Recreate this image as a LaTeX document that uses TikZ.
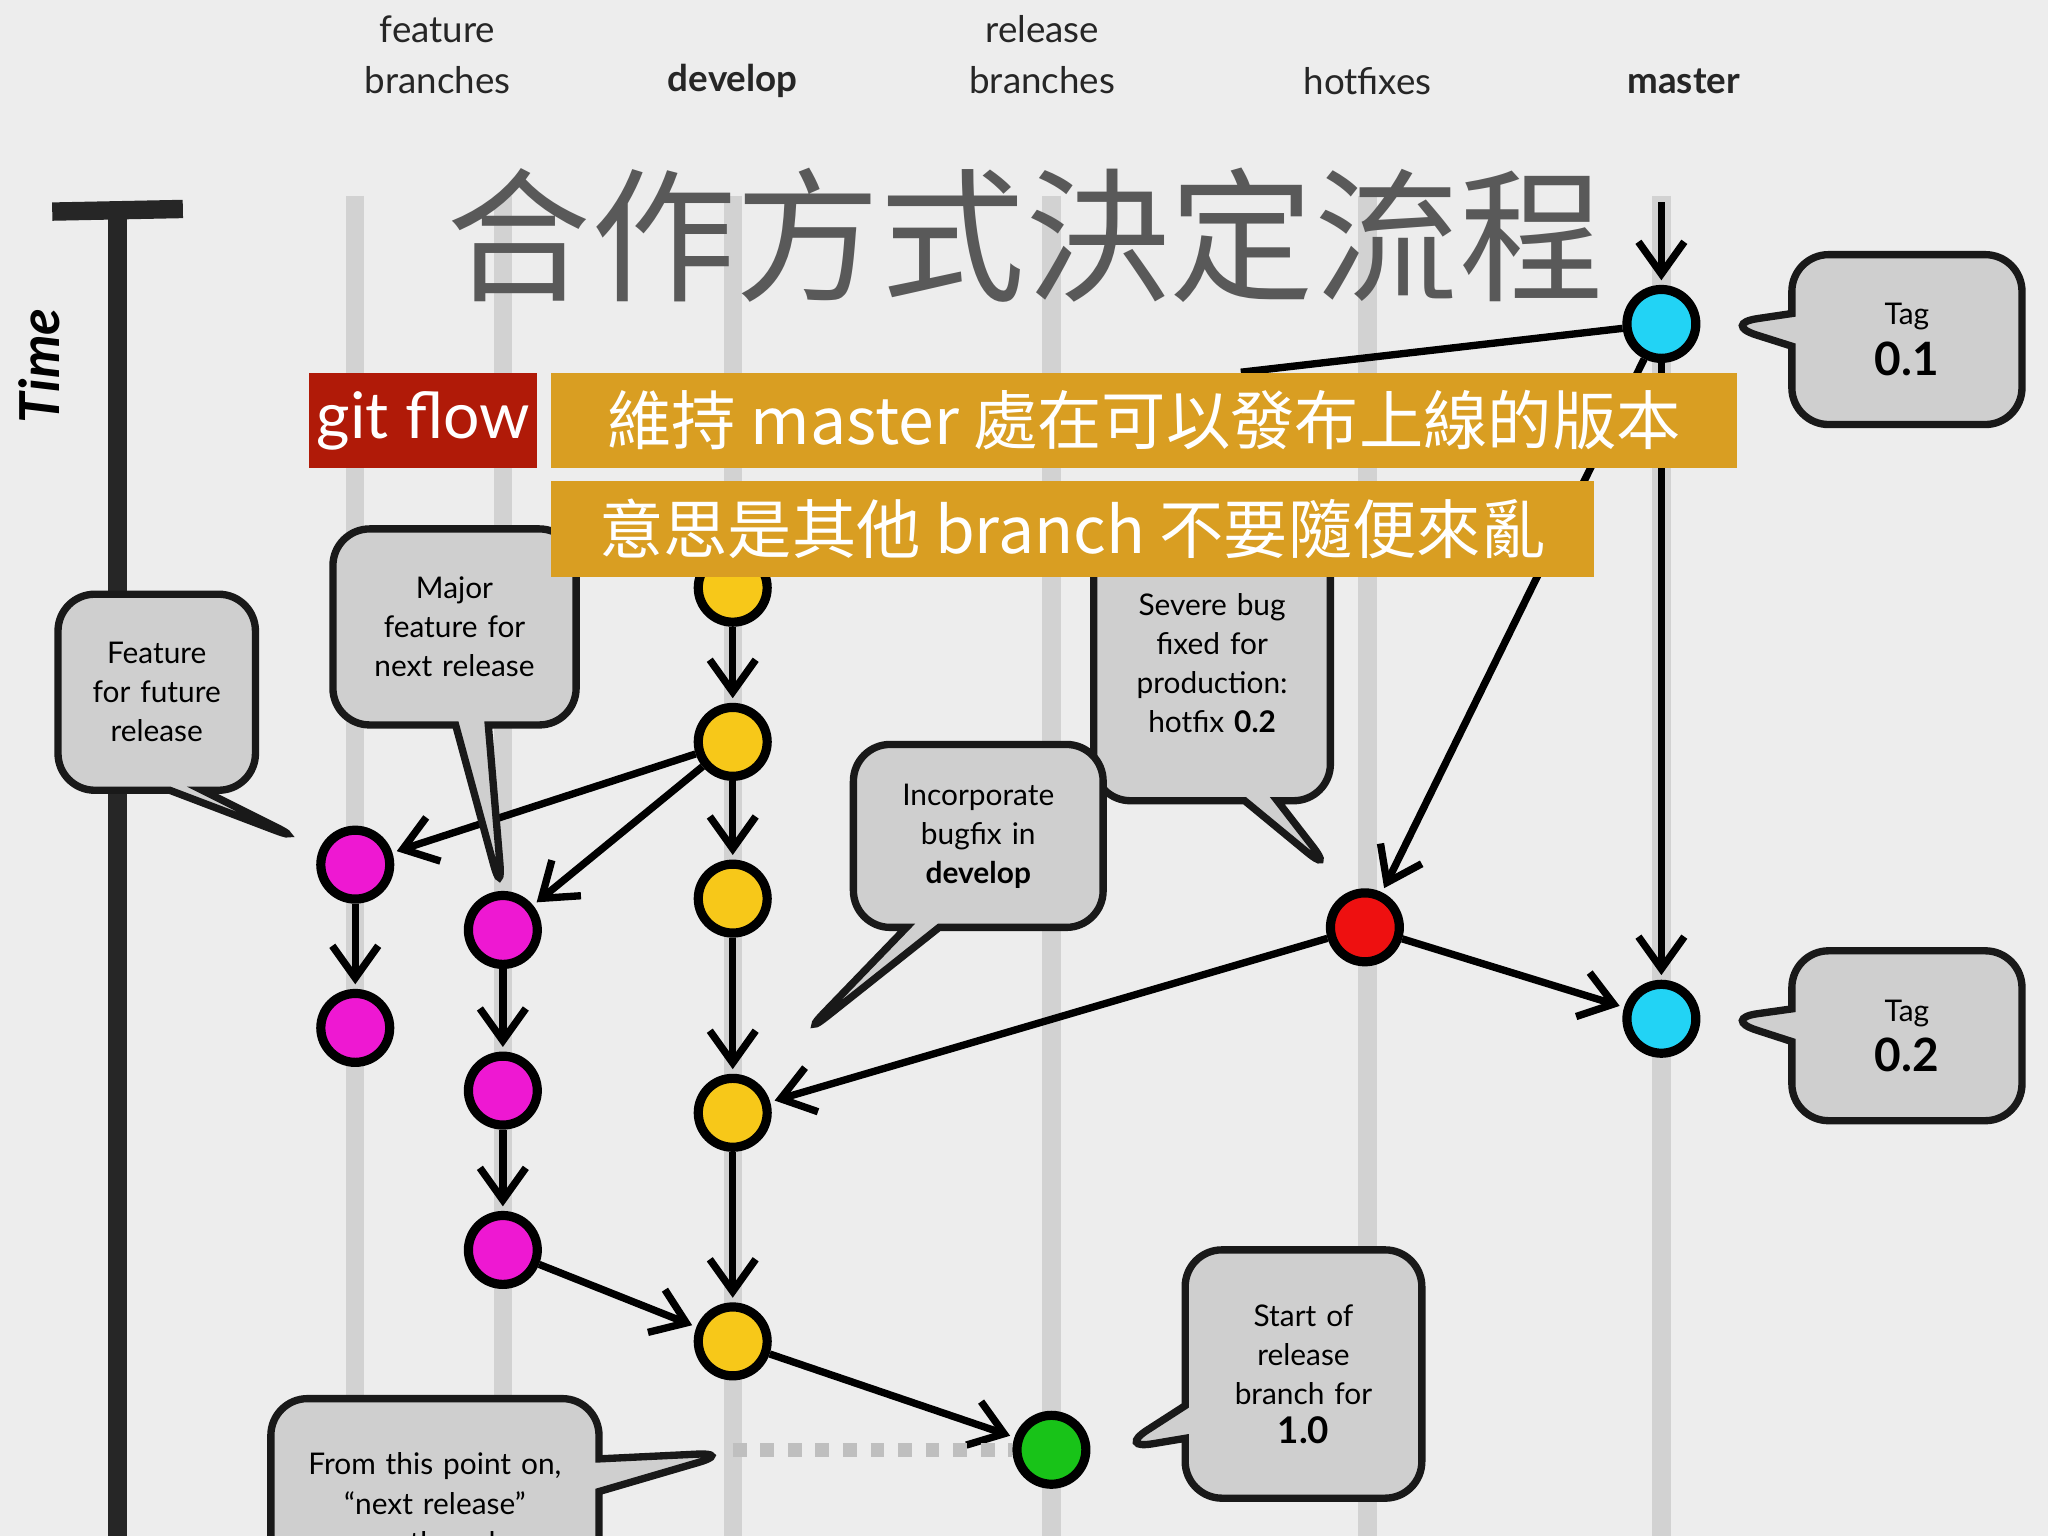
\documentclass[tikz,border=0pt]{standalone}
\usepackage{fontspec}
\setmainfont{Lato}
\newfontfamily\cjk{Noto Sans CJK TC}
\usetikzlibrary{arrows.meta,shapes.callouts}
\definecolor{bg}{HTML}{EDEDED}
\definecolor{lane}{HTML}{D2D2D2}
\definecolor{orng}{HTML}{D99E22}
\definecolor{redb}{HTML}{B01A08}
\definecolor{cy}{HTML}{22D3F5}
\definecolor{ye}{HTML}{F7C819}
\definecolor{mg}{HTML}{EE18D2}
\definecolor{rd}{HTML}{EE1010}
\definecolor{gr}{HTML}{18C318}
\definecolor{box}{HTML}{CFCFCF}
\tikzset{
 commit/.style={circle,draw=black,line width=2pt,minimum size=15pt,inner sep=0pt,fill=#1},
 arr/.style={line width=1.6pt,-{Straight Barb[length=7pt,width=10pt,line width=1.6pt]},shorten >=1pt},
 lanel/.style={line width=4pt,draw=lane},
 hdr/.style={font=\fontsize{8}{11}\selectfont,text=black!85,align=center},
 co/.style={rectangle callout,rounded corners=8pt,draw=black!90,line width=1.6pt,fill=box,align=center,font=\fontsize{6.5}{8.5}\selectfont,inner sep=3pt},
}
\begin{document}
\begin{tikzpicture}[x=0.01cm,y=-0.01cm]
\fill[bg] (0,0) rectangle (1568,1176);
\useasboundingbox (0,0) rectangle (1568,1176);
% headers
\node[hdr] (h1) at (335,42) {feature\\branches};
\node[hdr,font=\fontsize{8}{11}\selectfont\bfseries] (h2) at (561,62) {develop};
\node[hdr] (h3) at (798,42) {release\\branches};
\node[hdr] (h4) at (1047,62) {hotfixes};
\node[hdr,font=\fontsize{8}{11}\selectfont\bfseries] (h5) at (1289,62) {master};
% time axis
\draw[line width=4pt,black!85] (90,165) -- (90,1176);
\draw[line width=4pt,black!85] (40,162) -- (140,160);
\node[rotate=90,font=\fontsize{12}{14}\selectfont\bfseries\itshape] (time) at (30,280) {Time};
% lanes
\draw[lanel] (272,150) -- (272,1070);
\draw[lanel] (385,150) -- (385,1176);
\draw[lanel] (561,150) -- (561,1176);
\draw[lanel] (805,150) -- (805,1176);
\draw[lanel] (1047,150) -- (1047,1176);
\draw[lanel] (1272,150) -- (1272,1176);
% commits
\node[commit=cy] (m1) at (1272,248) {};
\node[commit=cy] (m2) at (1272,780) {};
\node[commit=rd] (hf) at (1045,710) {};
\node[commit=ye] (y0) at (561,450) {};
\node[commit=ye] (y1) at (561,568) {};
\node[commit=ye] (y2) at (561,688) {};
\node[commit=ye] (y3) at (561,852) {};
\node[commit=ye] (y4) at (561,1027) {};
\node[commit=mg] (a1) at (272,662) {};
\node[commit=mg] (a2) at (272,787) {};
\node[commit=mg] (b1) at (385,712) {};
\node[commit=mg] (b2) at (385,835) {};
\node[commit=mg] (b3) at (385,957) {};
\node[commit=gr] (g1) at (805,1110) {};
\coordinate (mtop) at (1272,155);
\coordinate (rel0) at (950,285);
\coordinate (dstart) at (561,1110);
% connectors
\draw[arr] (mtop) -- (m1);
\draw[arr] (m1) -- (m2);
\draw[line width=1.6pt] (m1) -- (rel0);
\draw[arr] (m1) -- (hf);
\draw[arr] (hf) -- (m2);
\draw[arr] (hf) -- (y3);
\draw[arr] (y0) -- (y1);
\draw[arr] (y1) -- (y2);
\draw[arr] (y2) -- (y3);
\draw[arr] (y3) -- (y4);
\draw[arr] (y1) -- (a1);
\draw[arr] (y1) -- (b1);
\draw[arr] (a1) -- (a2);
\draw[arr] (b1) -- (b2);
\draw[arr] (b2) -- (b3);
\draw[arr] (b3) -- (y4);
\draw[arr] (y4) -- (g1);
\draw[line width=3pt,black!25,dashed] (dstart) -- (g1);
% callouts
\coordinate (p1) at (1318,248); \coordinate (p2) at (1318,780);
\coordinate (p3) at (1022,670); \coordinate (p4) at (612,795);
\coordinate (p5) at (235,645); \coordinate (p6) at (385,688);
\coordinate (p7) at (855,1110); \coordinate (p8) at (561,1112);
\node[co,text width=1.55cm,minimum height=1.3cm,callout absolute pointer=(p1),font=\fontsize{6.5}{11}\selectfont] (t1) at (1460,260) {Tag\\{\fontsize{10}{12}\selectfont\bfseries 0.1}};
\node[co,text width=1.55cm,minimum height=1.3cm,callout absolute pointer=(p2),font=\fontsize{6.5}{11}\selectfont] (t2) at (1460,793) {Tag\\{\fontsize{10}{12}\selectfont\bfseries 0.2}};
\node[co,text width=1.6cm,minimum height=2.1cm,callout absolute pointer=(p3)] (c1) at (928,508) {Severe bug\\fixed for\\production:\\hotfix \textbf{0.2}};
\node[co,text width=1.7cm,minimum height=1.4cm,callout absolute pointer=(p4)] (c2) at (749,640) {Incorporate\\bugfix in\\\textbf{develop}};
\node[co,text width=1.3cm,minimum height=1.5cm,callout absolute pointer=(p5)] (c3) at (120,530) {Feature\\for future\\release};
\node[co,text width=1.65cm,minimum height=1.5cm,callout absolute pointer=(p6)] (c4) at (348,480) {Major\\feature for\\next release};
\node[co,text width=1.6cm,minimum height=1.9cm,callout absolute pointer=(p7)] (c5) at (998,1052) {Start of\\release\\branch for\\{\fontsize{8}{10}\selectfont\bfseries 1.0}};
\node[co,text width=2.3cm,minimum height=1.6cm,callout absolute pointer=(p8),anchor=north] (c6) at (333,1068) {From this point on,\\``next release''\\means the release};
% title & banners
\node[font=\cjk\fontsize{31.5}{34}\selectfont,text=black!65] (title) at (785,180) {合作方式決定流程};
\node[fill=redb,text=white,font=\fontsize{14}{16}\selectfont,minimum width=1.74cm,minimum height=0.73cm,inner sep=0pt] (gf) at (324,322) {git flow};
\node[fill=orng,text=white,font=\cjk\fontsize{14}{16}\selectfont,minimum width=9.08cm,minimum height=0.73cm,inner sep=0pt] (o1) at (876,322) {維持 master 處在可以發布上線的版本};
\node[fill=orng,text=white,font=\cjk\fontsize{14}{16}\selectfont,minimum width=7.98cm,minimum height=0.74cm,inner sep=0pt] (o2) at (821,405) {意思是其他 branch 不要隨便來亂};
\end{tikzpicture}
\end{document}
